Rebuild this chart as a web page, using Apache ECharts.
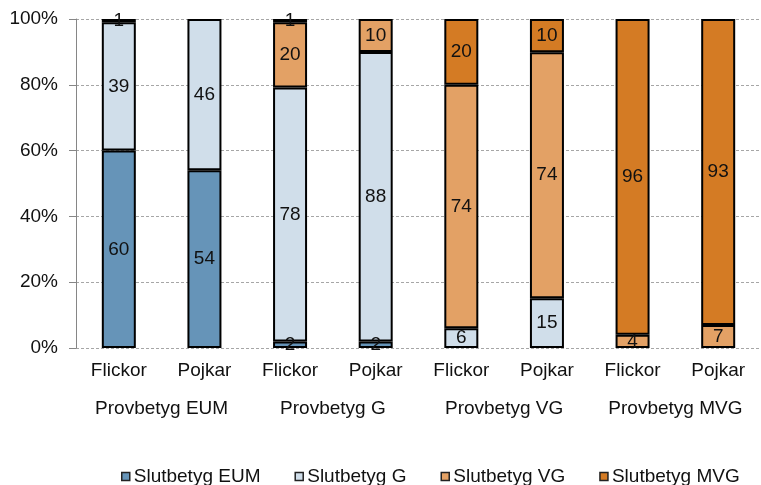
<!DOCTYPE html>
<html>
<head>
<meta charset="utf-8">
<script src="https://cdn.jsdelivr.net/npm/echarts@6/dist/echarts.min.js"></script>
<style>
  html, body { margin: 0; padding: 0; background: #fff; }
  #myChart { width: 761px; height: 485px; }
</style>
</head>
<body>
<div id="myChart"></div>
<script>
// kategorier
var groups = ['Flickor', 'Pojkar', 'Flickor', 'Pojkar', 'Flickor', 'Pojkar', 'Flickor', 'Pojkar'];
var provbetyg = ['Provbetyg EUM', 'Provbetyg G', 'Provbetyg VG', 'Provbetyg MVG'];
var yTicks = [0, 20, 40, 60, 80, 100];

// antal procent per slutbetyg
var slutEUM = [60, 54, 2, 2, 0, 0, 0, 0];
var slutG   = [39, 46, 78, 88, 6, 15, 0, 0];
var slutVG  = [1, 0, 20, 10, 74, 74, 4, 7];
var slutMVG = [0, 0, 1, 0, 20, 10, 96, 93];

var seriesNames = ['Slutbetyg EUM', 'Slutbetyg G', 'Slutbetyg VG', 'Slutbetyg MVG'];
var seriesData = [slutEUM, slutG, slutVG, slutMVG];
var colors = ['#6694B8', '#D0DEEA', '#E3A165', '#D47B24'];

var chart = echarts.init(document.getElementById('myChart'));

// 100% staplat: varje stapel normeras till summan
var totals = groups.map(function (g, i) {
  return seriesData.reduce(function (s, arr) { return s + arr[i]; }, 0);
});

var series = seriesData.map(function (arr, k) {
  return {
    name: seriesNames[k],
    type: 'bar',
    stack: 'total',
    barWidth: 34,
    data: arr.map(function (v, i) {
      return { value: v ? v / totals[i] * 100 : '-', raw: v }; // 0 ritas inte
    }),
    itemStyle: { color: colors[k], borderColor: '#000', borderWidth: 2 },
    label: {
      show: true,
      position: 'inside',
      fontFamily: 'Liberation Sans',
      fontSize: 19,
      color: '#111',
      formatter: function (p) { return p.data.raw ? String(p.data.raw) : ''; }
    }
  };
});

var option = {
  animation: false,
  backgroundColor: '#fff',
  color: colors,
  grid: { left: 76, right: -11, top: 19, bottom: 137 },
  legend: {
    data: seriesNames,
    left: 116,
    top: 462,
    itemWidth: 8,
    itemHeight: 8,
    itemGap: 34,
    icon: 'rect',
    itemStyle: { borderColor: '#222', borderWidth: 1.5 },
    textStyle: { fontFamily: 'Liberation Sans', fontSize: 19, color: '#111', padding: [0, 0, 0, -1] }
  },
  xAxis: [{
    type: 'category',
    data: groups,
    axisLine: { show: false },
    axisTick: { show: false },
    axisLabel: { interval: 0, fontFamily: 'Liberation Sans', fontSize: 19, color: '#111', margin: 13 }
  }, {
    type: 'category',
    data: provbetyg,
    position: 'bottom',
    offset: 38,
    axisLine: { show: false },
    axisTick: { show: false },
    axisLabel: { interval: 0, fontFamily: 'Liberation Sans', fontSize: 19, color: '#111', margin: 13 }
  }],
  yAxis: {
    type: 'value',
    min: yTicks[0],
    max: yTicks[yTicks.length - 1],
    interval: 20,
    axisLine: { show: true, lineStyle: { color: '#868686', width: 1 } },
    axisTick: { show: true, length: 7, lineStyle: { color: '#868686' } },
    axisLabel: { fontFamily: 'Liberation Sans', fontSize: 19, color: '#111', margin: 18, formatter: '{value}%' },
    splitLine: { lineStyle: { color: '#a6a6a6', type: [3, 2], width: 1 } }
  },
  series: series
};
chart.setOption(option);
</script>
</body>
</html>
